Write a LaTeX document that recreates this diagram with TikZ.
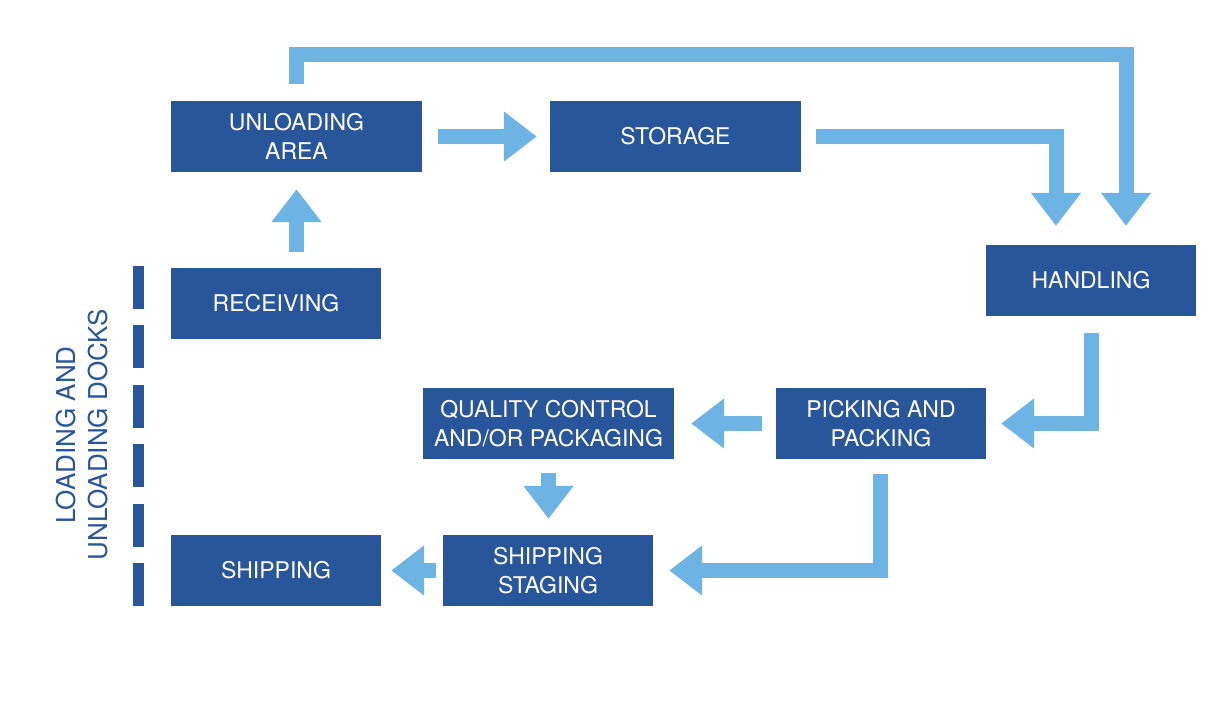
\documentclass[tikz,border=0pt]{standalone}
\usepackage{fontspec}
\setmainfont{TeX Gyre Heros}
\usetikzlibrary{arrows.meta,calc}
\definecolor{boxblue}{RGB}{41,86,155}
\definecolor{arrowblue}{RGB}{109,179,227}
\tikzset{
  box/.style={fill=boxblue, draw=none, text=white, inner sep=0pt,
    minimum height=71pt, align=center,
    font=\fontsize{23}{29}\selectfont},
  wide/.style={box, minimum width=251pt},
  narrow/.style={box, minimum width=210pt},
  fat/.style={draw=arrowblue, line width=15pt, line cap=butt, line join=miter,
    -{Triangle[length=33pt,width=48pt]}},
  dock/.style={draw=boxblue, line width=11pt, line cap=butt,
    dash pattern=on 43pt off 16.4pt},
}
\begin{document}
\begin{tikzpicture}[x=1pt,y=-1pt]
\useasboundingbox (0,0) rectangle (1208,704);
% boxes
\node[wide]   (unl)  at (296.5,136.5) {UNLOADING\\AREA};
\node[wide]   (sto)  at (675.5,136.5) {STORAGE};
\node[narrow] (recv) at (276,303.5)   {RECEIVING};
\node[narrow] (hand) at (1091,280.5)  {HANDLING};
\node[narrow] (pick) at (881,423.5)   {PICKING AND\\PACKING};
\node[wide]   (qc)   at (548.5,423.5) {QUALITY CONTROL\\AND/OR PACKAGING};
\node[narrow] (stag) at (548,570.5)   {SHIPPING\\STAGING};
\node[narrow] (ship) at (276,570.5)   {SHIPPING};
% dock line and label
\coordinate (dtop) at (138.5,266);
\coordinate (dbot) at (138.5,606);
\draw[dock] (dtop) -- (dbot);
\node[rotate=90, text=boxblue, align=center, inner sep=0pt,
  font=\fontsize{26}{32}\selectfont] (docks) at (82.5,435)
  {LOADING AND\\UNLOADING DOCKS};
% connectors
\draw[fat] ($(recv.north)+(20.5,-16)$) -- ($(unl.south)+(0,17)$);
\draw[fat] ($(unl.east)+(16,0)$) -- ($(sto.west)+(-13,0)$);
\draw[fat] ($(unl.north)+(0,-17)$) |- ($(hand.north)+(35,-190)$) -- ($(hand.north)+(35,-19)$);
\draw[fat] ($(sto.east)+(15,0)$) -| ($(hand.north)+(-35,-19)$);
\draw[fat] ($(hand.south)+(0,17)$) |- ($(pick.east)+(15,0)$);
\draw[fat] ($(pick.west)+(-14,0)$) -- ($(qc.east)+(17,0)$);
\draw[fat] ($(qc.south)+(0,14)$) -- ($(stag.north)+(0.5,-16)$);
\draw[fat] ($(pick.south)+(-0.5,15)$) |- ($(stag.east)+(16,0)$);
\draw[fat] ($(stag.west)+(-7,0)$) -- ($(ship.east)+(10,0)$);
\end{tikzpicture}
\end{document}
